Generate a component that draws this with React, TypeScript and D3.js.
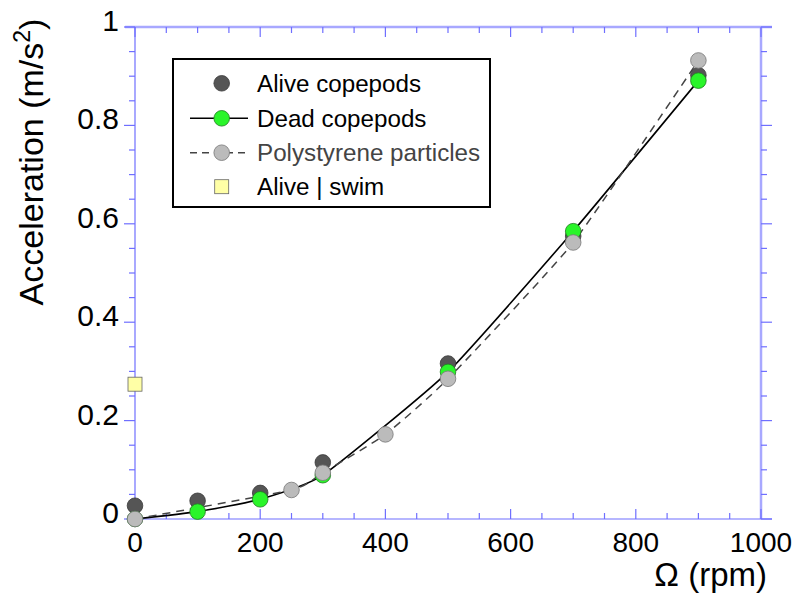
import React from "react";
import * as d3 from "d3";

const rpmAlive = [0, 100, 200, 300, 500, 700, 900];
const accAlive = [0.027, 0.037, 0.053, 0.115, 0.316, 0.575, 0.902];
const rpmDead = [0, 100, 200, 300, 500, 700, 900];
const accDead = [0.0, 0.015, 0.04, 0.089, 0.299, 0.585, 0.891];
const rpmPoly = [0, 250, 300, 400, 500, 700, 900];
const accPoly = [0.0, 0.059, 0.094, 0.172, 0.285, 0.562, 0.932];
const rpmSwim = [0];
const accSwim = [0.274];

const xTicks = [0, 200, 400, 600, 800, 1000];
const yTicks = [0, 0.2, 0.4, 0.6, 0.8, 1];
const yTickLabels = ["0", "0.2", "0.4", "0.6", "0.8", "1"];
const legendLabels = ["Alive copepods", "Dead copepods", "Polystyrene particles", "Alive | swim"];

const L = 135, R = 761, T = 27, B = 519;
const FONT = "Arial, 'Liberation Sans', Helvetica, sans-serif";

export default function App() {
  const x = d3.scaleLinear().domain([0, 1000]).range([L, R]);
  const y = d3.scaleLinear().domain([0, 1]).range([B, T]);
  const xMinor = d3.range(0, 1001, 50);
  const yMinor = d3.range(0, 1.0001, 0.05);
  const isMajX = (v: number) => Math.abs(v % 200) < 1e-6;
  const isMajY = (v: number) => Math.abs(Math.round(v * 100) % 20) < 1e-6;

  const lineGen = d3
    .line<[number, number]>()
    .x((d) => x(d[0]))
    .y((d) => y(d[1]))
    .curve(d3.curveCardinal.tension(0.5));
  const deadPath = lineGen(rpmDead.map((r, i) => [r, accDead[i]]) as [number, number][]) || "";
  const polyPath = lineGen(rpmPoly.map((r, i) => [r, accPoly[i]]) as [number, number][]) || "";

  const axisCol = "#6f6fff";
  const axisCol2 = "#a8a8ff";
  const rad = 7.8;

  const legX = 173, legY = 59, legW = 317, legH = 148;
  const rowY = [83.3, 118.3, 152.7, 186.7];
  const symX = 221.7;
  const textX = 257;

  return (
    <svg
      width={798}
      height={596}
      style={{ position: "absolute", left: 0, top: 0, background: "#fff" }}
      fontFamily={FONT}
    >
      <rect x={0} y={0} width={798} height={596} fill="#fff" />
      {/* axes lines */}
      <line x1={125} x2={772} y1={T} y2={T} stroke={axisCol2} strokeWidth={2.5} />
      <line x1={R} x2={R} y1={T} y2={B} stroke={axisCol2} strokeWidth={2.5} />
      <line x1={128} x2={772} y1={B} y2={B} stroke={axisCol} strokeWidth={1.2} />
      <line x1={L} x2={L} y1={T} y2={B} stroke={axisCol} strokeWidth={1.2} />
      {/* x ticks bottom (inward) and top (inward) */}
      {xMinor.map((v) => {
        const len = isMajX(v) ? 10 : 6;
        return (
          <g key={"xt" + v}>
            <line x1={x(v)} x2={x(v)} y1={B} y2={B - len} stroke={axisCol} strokeWidth={1.2} />
            <line x1={x(v)} x2={x(v)} y1={T} y2={T + len} stroke={axisCol} strokeWidth={1.2} />
          </g>
        );
      })}
      {/* y ticks left (outward) and right (outward) */}
      {yMinor.map((v) => {
        const len = isMajY(v) ? 11 : 6;
        return (
          <g key={"yt" + v.toFixed(2)}>
            <line x1={L} x2={L - len} y1={y(v)} y2={y(v)} stroke={axisCol} strokeWidth={1.2} />
            <line x1={R} x2={R + len} y1={y(v)} y2={y(v)} stroke={axisCol} strokeWidth={1.2} />
          </g>
        );
      })}
      {/* tick labels */}
      {xTicks.map((v) => (
        <text key={"xl" + v} x={x(v)} y={552} fontSize={28} textAnchor="middle" fill="#000">
          {String(v)}
        </text>
      ))}
      {yTicks.map((v, i) => (
        <text key={"yl" + v} x={119} y={y(v) + 4} fontSize={30} textAnchor="end" fill="#000">
          {yTickLabels[i]}
        </text>
      ))}
      {/* axis titles */}
      <text x={767} y={586} fontSize={33} textAnchor="end" fill="#000">
        Ω (rpm)
      </text>
      <text transform="translate(43,162) rotate(-90)" fontSize={34} textAnchor="middle" fill="#000">
        Acceleration (m/s<tspan dy={-13} fontSize={23}>2</tspan>
        <tspan dy={13}>)</tspan>
      </text>
      {/* lines */}
      <path d={deadPath} fill="none" stroke="#000" strokeWidth={1.6} />
      <path d={polyPath} fill="none" stroke="#444" strokeWidth={1.5} strokeDasharray="8,6" />
      {/* markers */}
      {rpmAlive.map((r, i) => (
        <circle key={"a" + i} cx={x(r)} cy={y(accAlive[i])} r={rad} fill="#555555" stroke="#3a3a3a" strokeWidth={0.8} />
      ))}
      {rpmDead.map((r, i) => (
        <circle key={"d" + i} cx={x(r)} cy={y(accDead[i])} r={rad} fill="#2af52a" stroke="#1e7a1e" strokeWidth={0.8} />
      ))}
      {rpmPoly.map((r, i) => (
        <circle key={"p" + i} cx={x(r)} cy={y(accPoly[i])} r={rad} fill="#bbbbbb" stroke="#777" strokeWidth={0.8} />
      ))}
      {rpmSwim.map((r, i) => (
        <rect key={"s" + i} x={x(r) - 7} y={y(accSwim[i]) - 7} width={14} height={14} fill="#ffffa6" stroke="#666" strokeWidth={0.8} />
      ))}
      {/* legend */}
      <rect x={legX} y={legY} width={legW} height={legH} fill="#fff" stroke="#000" strokeWidth={2} />
      <circle cx={symX} cy={rowY[0]} r={rad} fill="#555555" stroke="#3a3a3a" strokeWidth={0.8} />
      <line x1={190} x2={248} y1={rowY[1]} y2={rowY[1]} stroke="#000" strokeWidth={1.6} />
      <circle cx={symX} cy={rowY[1]} r={rad} fill="#2af52a" stroke="#1e7a1e" strokeWidth={0.8} />
      <line x1={190} x2={248} y1={rowY[2]} y2={rowY[2]} stroke="#444" strokeWidth={1.5} strokeDasharray="7,5" />
      <circle cx={symX} cy={rowY[2]} r={rad} fill="#bbbbbb" stroke="#777" strokeWidth={0.8} />
      <rect x={symX - 7} y={rowY[3] - 7} width={14} height={14} fill="#ffffa6" stroke="#666" strokeWidth={0.8} />
      {legendLabels.map((t, i) => (
        <text key={"lg" + i} x={textX} y={rowY[i] + 8.5} fontSize={24.2} fill={i === 2 ? "#444" : "#000"}>
          {t}
        </text>
      ))}
    </svg>
  );
}
